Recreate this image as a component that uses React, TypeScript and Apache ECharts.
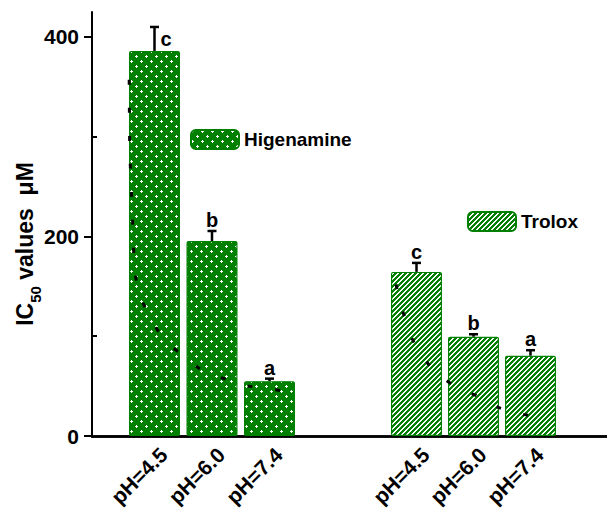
import React, { useEffect, useRef } from "react";
import * as echarts from "echarts";

const phLabels = ["pH=4.5", "pH=6.0", "pH=7.4"];
const higenamineIC50 = [386, 195.5, 55];
const higenamineErr = [24, 10, 2.5];
const higenamineLetters = ["c", "b", "a"];
const troloxIC50 = [164.5, 99.5, 80.5];
const troloxErr = [9, 2.5, 5.5];
const troloxLetters = ["c", "b", "a"];
const yMajorTicks = [0, 200, 400];
const yMinorTicks = [100, 300];
const yMax = 425;
// dashed traces visible over the bars: [position in bar-index units, value]
const higenamineTrace = [
  [-0.44, 357], [-0.43, 287], [-0.39, 229], [-0.34, 164], [-0.24, 139], [-0.06, 117],
  [0.2, 94], [0.55, 79], [0.84, 65], [1.24, 57], [1.64, 50], [2.01, 47], [2.39, 44],
];
const troloxTrace = [
  [-0.36, 152], [-0.24, 125], [-0.08, 98], [0.11, 79], [0.39, 61], [0.74, 48],
  [1.07, 40], [1.42, 29], [1.75, 23], [2.03, 20], [2.3, 17],
];

const FONT = "Arial, 'Liberation Sans', sans-serif";
const GREEN = "#008000";
const TOP = 12;
const BOTTOM = 75;

function makePattern(kind: "dots" | "stripes") {
  const c = document.createElement("canvas");
  const size = kind === "dots" ? 10 : 5;
  c.width = size;
  c.height = size;
  const ctx = c.getContext("2d")!;
  ctx.fillStyle = GREEN;
  ctx.fillRect(0, 0, size, size);
  ctx.fillStyle = "#ffffff";
  if (kind === "dots") {
    ctx.fillRect(1, 0, 1, 3);
    ctx.fillRect(0, 1, 3, 1);
    ctx.fillRect(6, 5, 1, 3);
    ctx.fillRect(5, 6, 3, 1);
  } else {
    for (let x = 0; x < size; x++) {
      for (let y = 0; y < size; y++) {
        const m = (x + y) % size;
        if (m === 0 || m === 1) ctx.fillRect(x, y, 1, 1);
      }
    }
  }
  return { image: c, repeat: "repeat" };
}

function errorSeries(name: string, xi: number, yi: number, vals: number[], errs: number[], letters: string[]) {
  return {
    type: "custom",
    name,
    xAxisIndex: xi,
    yAxisIndex: yi,
    z: 5,
    data: vals.map((v, i) => [i, v, errs[i]]),
    renderItem: (params: any, api: any) => {
      const i = api.value(0);
      const v = api.value(1);
      const e = api.value(2);
      const base = api.coord([i, v]);
      const top = api.coord([i, v + e]);
      const letter = letters[params.dataIndex];
      const side = v + e + 18 > yMax;
      const font = `bold 20px ${FONT}`;
      const text = side
        ? { type: "text", style: { text: letter, x: top[0] + 6, y: (top[1] + base[1]) / 2, align: "left", verticalAlign: "middle", font, fill: "#000" } }
        : { type: "text", style: { text: letter, x: top[0], y: top[1] - 1, align: "center", verticalAlign: "bottom", font, fill: "#000" } };
      return {
        type: "group",
        children: [
          { type: "line", shape: { x1: base[0], y1: base[1], x2: top[0], y2: top[1] }, style: { stroke: "#000", lineWidth: 2.5 } },
          { type: "line", shape: { x1: top[0] - 4.5, y1: top[1], x2: top[0] + 4.5, y2: top[1] }, style: { stroke: "#000", lineWidth: 2.5 } },
          text,
        ],
      };
    },
  };
}

export default function App() {
  const ref = useRef<HTMLDivElement>(null);
  useEffect(() => {
    if (!ref.current) return;
    const chart = echarts.init(ref.current, undefined, { renderer: "svg" });
    const dots = makePattern("dots");
    const stripes = makePattern("stripes");
    const hiddenY = (gi: number) => ({ type: "value", gridIndex: gi, min: 0, max: yMax, show: false });
    const catX = (gi: number) => ({
      type: "category",
      gridIndex: gi,
      data: phLabels,
      axisLine: { show: false },
      axisTick: { show: false },
      axisLabel: {
        interval: 0,
        rotate: 45,
        margin: 6,
        verticalAlign: "top",
        lineHeight: 26,
        fontSize: 21,
        fontWeight: "bold",
        fontFamily: FONT,
        color: "#000",
        hideOverlap: false,
      },
    });
    const traceX = (gi: number) => ({ type: "value", gridIndex: gi, min: -0.5, max: 2.5, show: false });
    const legendBase = {
      orient: "horizontal",
      itemWidth: 48,
      itemHeight: 19,
      padding: 0,
      selectedMode: false,
      textStyle: { fontSize: 19, fontWeight: "bold", fontFamily: FONT, color: "#000" },
    };
    const gridBase = { top: TOP, bottom: BOTTOM, containLabel: false, outerBoundsMode: "none" };
    chart.setOption({
      animation: false,
      backgroundColor: "#fff",
      grid: [
        { ...gridBase, left: 92, right: 0 },
        { ...gridBase, left: 125.75, width: 172.5 },
        { ...gridBase, left: 388, width: 171 },
      ],
      legend: [
        { ...legendBase, data: ["Higenamine"], left: 190, top: 129 },
        { ...legendBase, data: ["Trolox"], left: 467, top: 211 },
      ],
      xAxis: [
        { type: "value", gridIndex: 0, min: 0, max: 1, position: "bottom", axisLine: { show: true, lineStyle: { color: "#000", width: 2.5 } }, axisTick: { show: false }, axisLabel: { show: false }, splitLine: { show: false } },
        { type: "value", gridIndex: 0, min: 0, max: 1, position: "top", axisLine: { show: true, lineStyle: { color: "#000", width: 2.5 } }, axisTick: { show: false }, axisLabel: { show: false }, splitLine: { show: false } },
        catX(1),
        traceX(1),
        catX(2),
        traceX(2),
      ],
      yAxis: [
        {
          type: "value",
          gridIndex: 0,
          min: 0,
          max: yMax,
          name: "{n|IC}{s|50}{n| values  μM}",
          nameLocation: "middle",
          nameGap: 49,
          nameMoveOverlap: false,
          nameTextStyle: {
            padding: [0, 40, 0, 0],
            rich: {
              n: { fontSize: 23, fontWeight: "bold", fontFamily: FONT, color: "#000", lineHeight: 36 },
              s: { fontSize: 15, fontWeight: "bold", fontFamily: FONT, color: "#000", lineHeight: 15, verticalAlign: "bottom" },
            },
          },
          axisLine: { show: true, lineStyle: { color: "#000", width: 2 } },
          axisTick: { show: true, customValues: yMajorTicks, length: 8, lineStyle: { color: "#000", width: 2 } },
          axisLabel: { customValues: yMajorTicks, margin: 13, fontSize: 21, fontWeight: "bold", fontFamily: FONT, color: "#000" },
          splitLine: { show: false },
        },
        {
          type: "value",
          gridIndex: 0,
          min: 0,
          max: yMax,
          axisLine: { show: false },
          axisTick: { show: true, customValues: yMinorTicks, length: 5, lineStyle: { color: "#000", width: 2 } },
          axisLabel: { show: false },
          splitLine: { show: false },
        },
        hiddenY(1),
        hiddenY(2),
      ],
      series: [
        {
          type: "bar",
          name: "Higenamine",
          xAxisIndex: 2,
          yAxisIndex: 2,
          barWidth: 51,
          data: higenamineIC50,
          itemStyle: { color: dots, borderColor: GREEN, borderWidth: 1.2, borderRadius: 1.5 },
        },
        {
          type: "bar",
          name: "Trolox",
          xAxisIndex: 4,
          yAxisIndex: 3,
          barWidth: 51,
          data: troloxIC50,
          itemStyle: { color: stripes, borderColor: GREEN, borderWidth: 1.2, borderRadius: 1.5 },
        },
        errorSeries("errH", 2, 2, higenamineIC50, higenamineErr, higenamineLetters),
        errorSeries("errT", 4, 3, troloxIC50, troloxErr, troloxLetters),
        {
          type: "line",
          name: "traceH",
          xAxisIndex: 3,
          yAxisIndex: 2,
          data: higenamineTrace,
          smooth: 0.2,
          showSymbol: false,
          z: 6,
          lineStyle: { color: "#000", width: 3, type: [5, 23] },
        },
        {
          type: "line",
          name: "traceT",
          xAxisIndex: 5,
          yAxisIndex: 3,
          data: troloxTrace,
          smooth: 0.2,
          showSymbol: false,
          z: 6,
          lineStyle: { color: "#000", width: 3, type: [5, 23] },
        },
      ],
    });
    return () => chart.dispose();
  }, []);
  return <div ref={ref} style={{ position: "fixed", left: 0, top: 0, width: 607, height: 511 }} />;
}
